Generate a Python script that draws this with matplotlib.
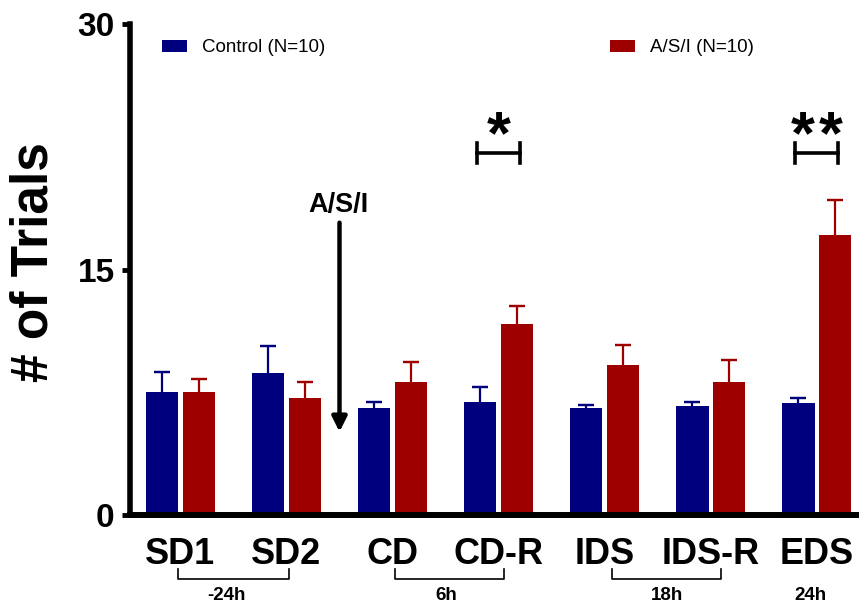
import matplotlib
matplotlib.use("Agg")
import matplotlib.pyplot as plt
import matplotlib.transforms as mtransforms
from matplotlib.patches import Patch
import numpy as np

plt.rcParams['font.family'] = ['Liberation Sans', 'DejaVu Sans']

categories = ["SD1", "SD2", "CD", "CD-R", "IDS", "IDS-R", "EDS"]
control = [7.54, 8.70, 6.56, 6.93, 6.56, 6.67, 6.83]
control_err = [1.22, 1.64, 0.37, 0.90, 0.18, 0.24, 0.34]
asi = [7.54, 7.14, 8.13, 11.66, 9.16, 8.13, 17.08]
asi_err = [0.78, 1.00, 1.20, 1.12, 1.20, 1.37, 2.18]
series_labels = ["Control (N=10)", "A/S/I (N=10)"]
yticks = [0, 15, 30]
group_labels = ["-24h", "6h", "18h", "24h"]
group_label_x = [0.434, 2.511, 4.587, 5.939]
group_brackets = [(-0.02, 1.02), (2.024, 3.052), (4.068, 5.10), None]
sig = [(3, "*"), (6, "**")]

c_ctrl = "#00007F"
c_asi = "#9E0000"

fig = plt.figure(figsize=(8.59, 6.06), dpi=100)
ax = fig.add_axes([130/859, 91/606, 729/859, 491/606])

x = np.arange(len(categories))
w = 0.305
off = 0.172
ax.bar(x - off, control, w, color=c_ctrl, zorder=2)
ax.bar(x + off, asi, w, color=c_asi, zorder=2)
for xs, vals, errs, col in [(x - off, control, control_err, c_ctrl),
                            (x + off, asi, asi_err, c_asi)]:
    tops = np.array(vals) + np.array(errs)
    ax.vlines(xs, vals, tops, colors=col, lw=1.6, zorder=1)
    ax.errorbar(xs, tops, yerr=0, fmt='none', ecolor=col, elinewidth=0,
                capsize=5.8, capthick=1.6, zorder=1)

ax.set_xlim(-0.476, 6.40)
ax.set_ylim(0, 30)
for s in ['top', 'right']:
    ax.spines[s].set_visible(False)
ax.spines['left'].set_linewidth(4)
ax.spines['bottom'].set_linewidth(4.3)
ax.spines['left'].set_zorder(3)
ax.spines['bottom'].set_zorder(3)

ax.set_yticks(yticks)
ax.set_yticklabels([str(v) for v in yticks], fontsize=24, fontweight='bold')
ax.tick_params(axis='y', length=6, width=3.5, pad=5)
ax.set_xticks(x)
ax.set_xticklabels(categories, fontsize=26, fontweight='bold')
ax.tick_params(axis='x', length=0, pad=16)

fig.text(34/859, 1 - 262/606, "# of Trials", rotation=90, ha='center', va='center',
         fontsize=37, fontweight='bold')

# legend
handles = [Patch(facecolor=c_ctrl), Patch(facecolor=c_asi)]
leg = ax.legend(handles, series_labels, ncol=2, frameon=False, fontsize=13.5,
                handlelength=1.33, handleheight=0.59, handletextpad=0.8,
                columnspacing=15.2, borderpad=0, borderaxespad=0,
                loc='center left', bbox_to_anchor=(162/859, 1 - 48/606),
                bbox_transform=fig.transFigure)

# A/S/I arrow
ax.annotate("", xy=(1.5, 5.08), xytext=(1.5, 17.86),
            arrowprops=dict(arrowstyle='-|>', color='black', lw=3.2,
                            mutation_scale=22, shrinkA=0, shrinkB=0))
ax.text(1.49, 18.95, "A/S/I", ha='center', va='center', fontsize=19.5, fontweight='bold')

# group brackets under axis
trans = mtransforms.blended_transform_factory(ax.transData, fig.transFigure)
y_h = 1 - 579/606
y_t = 1 - 569/606
y_lab = 1 - 596/606
for lab, lx, br in zip(group_labels, group_label_x, group_brackets):
    if br is not None:
        a, b = br
        ax.plot([a, a, b, b], [y_t, y_h, y_h, y_t], color='black', lw=1.2,
                transform=trans, clip_on=False)
    ax.text(lx, y_lab, lab, ha='center', va='center', fontsize=13.5,
            fontweight='bold', transform=trans)

# significance brackets
for gi, stars in sig:
    xc = gi
    ax.plot([xc - 0.2, xc + 0.2], [22.1, 22.1], color='black', lw=2.6, clip_on=False)
    for xe in (xc - 0.2, xc + 0.2):
        ax.plot([xe, xe], [21.5, 22.75], color='black', lw=2.6, clip_on=False)
    n = len(stars)
    for k in range(n):
        xs = xc + (k - (n - 1) / 2) * 0.26
        ax.text(xs, 22.1, "*", ha='center', va='baseline', fontsize=44,
                fontweight='bold')

fig.savefig("out.png", dpi=100)
